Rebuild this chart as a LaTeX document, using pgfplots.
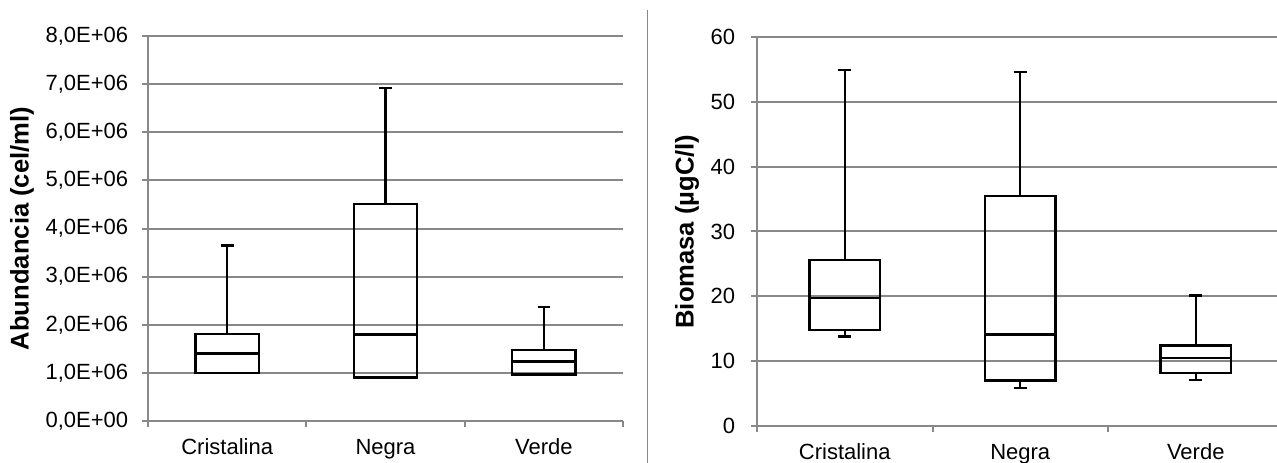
\documentclass[border=0pt]{standalone}
\usepackage{fontspec}
\setmainfont{Liberation Sans}
\usepackage{pgfplots}
\pgfplotsset{compat=1.18}
\usepgfplotslibrary{statistics}

\definecolor{gridgray}{RGB}{136,136,136}

\pgfplotsset{
  boxpanel/.style={
    scale only axis,
    axis x line*=bottom,
    axis y line*=left,
    axis line style={gridgray, line width=1bp},
    ymajorgrids=true,
    grid style={gridgray, line width=1bp},
    tick align=outside,
    major tick length=3bp,
    tick style={gridgray, line width=1bp},
    xtick={0.5,1.5,2.5,3.5},
    xticklabels={},
    extra x ticks={1,2,3},
    extra x tick labels={Cristalina,Negra,Verde},
    extra x tick style={major tick length=0pt, xticklabel style={yshift=-5.5bp}},
    xmin=0.5,
    scaled y ticks=false,
    tick label style={font=\fontsize{11bp}{13bp}\selectfont, black},
    /pgf/number format/assume math mode=true,
    ylabel style={font=\bfseries\fontsize{12.8bp}{15bp}\selectfont, anchor=center},
    boxplot/draw direction=y,
    clip=false,
  },
  bx/.style={black, line width=1.2bp, solid},
}

\begin{document}
\begin{tikzpicture}
\path[use as bounding box] (0,0) rectangle (638.5bp,231.5bp);

% left panel: abundance, values in units of 1E+06 cel/ml
\begin{axis}[boxpanel,
  at={(74bp,21bp)}, anchor=south west,
  width=237.5bp, height=192.5bp,
  xmax=3.5,
  ymin=0, ymax=8,
  ytick={0,1,2,3,4,5,6,7,8},
  yticklabels={{0,0E+00},{1,0E+06},{2,0E+06},{3,0E+06},{4,0E+06},{5,0E+06},{6,0E+06},{7,0E+06},{8,0E+06}},
  yticklabel style={xshift=-3.4bp},
  ylabel={Abundancia (cel/ml)},
  ylabel style={at={(axis description cs:-0.265,0.5)}},
  boxplot/box extend=0.4,
  boxplot/whisker extend=0.08,
]
\addplot[bx, boxplot prepared={draw position=1,
  lower whisker=1.00, lower quartile=1.00, median=1.40,
  upper quartile=1.81, upper whisker=3.65}] coordinates {};
\addplot[bx, boxplot prepared={draw position=2,
  lower whisker=0.90, lower quartile=0.90, median=1.80,
  upper quartile=4.51, upper whisker=6.92}] coordinates {};
\addplot[bx, boxplot prepared={draw position=3,
  lower whisker=0.97, lower quartile=0.97, median=1.24,
  upper quartile=1.47, upper whisker=2.37}] coordinates {};
\end{axis}

% separator
\draw[gridgray, line width=0.9bp] (323.75bp,226.5bp) -- (323.75bp,0);

% right panel: biomass
\begin{axis}[boxpanel,
  at={(378.5bp,18.5bp)}, anchor=south west,
  width=260bp, height=194.5bp,
  xmax=3.463,
  ymin=0, ymax=60,
  ytick={0,10,20,30,40,50,60},
  yticklabels={0,10,20,30,40,50,60},
  yticklabel style={xshift=-4.4bp},
  ylabel={Biomasa (µgC/l)},
  ylabel style={at={(axis description cs:-0.1346,0.5)}},
  boxplot/box extend=0.4,
  boxplot/whisker extend=0.075,
]
\addplot[bx, boxplot prepared={draw position=1,
  lower whisker=13.8, lower quartile=14.8, median=19.7,
  upper quartile=25.6, upper whisker=54.9}] coordinates {};
\addplot[bx, boxplot prepared={draw position=2,
  lower whisker=5.9, lower quartile=7.0, median=14.1,
  upper quartile=35.5, upper whisker=54.6}] coordinates {};
\addplot[bx, boxplot prepared={draw position=3,
  lower whisker=7.1, lower quartile=8.2, median=10.5,
  upper quartile=12.4, upper whisker=20.1}] coordinates {};
\end{axis}
\end{tikzpicture}
\end{document}
